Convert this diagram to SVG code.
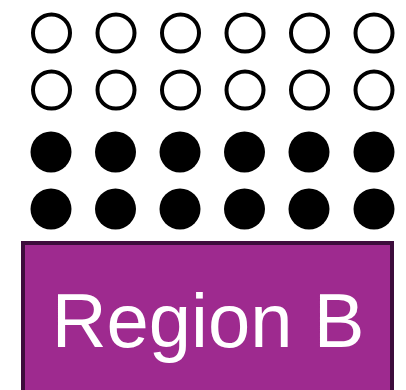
<svg xmlns="http://www.w3.org/2000/svg" width="406" height="390" viewBox="0 0 406 390">
<style>
.o{fill:#fff;stroke:#000;stroke-width:4}
.f{fill:#000}
.box{fill:#9e2a8f;stroke:#3d0c3c;stroke-width:4}
.t{fill:#fff;font-family:"Liberation Sans",Arial,sans-serif;font-size:76px}
</style>
<rect width="406" height="390" fill="#fff"/>
<g id="open">
<circle class="o" cx="51.5" cy="33" r="18.5"/><circle class="o" cx="116" cy="33" r="18.5"/><circle class="o" cx="180.5" cy="33" r="18.5"/><circle class="o" cx="245" cy="33" r="18.5"/><circle class="o" cx="309.5" cy="33" r="18.5"/><circle class="o" cx="374" cy="33" r="18.5"/>
<circle class="o" cx="51.5" cy="90" r="18.5"/><circle class="o" cx="116" cy="90" r="18.5"/><circle class="o" cx="180.5" cy="90" r="18.5"/><circle class="o" cx="245" cy="90" r="18.5"/><circle class="o" cx="309.5" cy="90" r="18.5"/><circle class="o" cx="374" cy="90" r="18.5"/>
</g>
<g id="filled">
<circle class="f" cx="51" cy="152" r="20.5"/><circle class="f" cx="115.5" cy="152" r="20.5"/><circle class="f" cx="180" cy="152" r="20.5"/><circle class="f" cx="244.5" cy="152" r="20.5"/><circle class="f" cx="309" cy="152" r="20.5"/><circle class="f" cx="374" cy="152" r="20.5"/>
<circle class="f" cx="51" cy="209" r="20.5"/><circle class="f" cx="115.5" cy="209" r="20.5"/><circle class="f" cx="180" cy="209" r="20.5"/><circle class="f" cx="244.5" cy="209" r="20.5"/><circle class="f" cx="309" cy="209" r="20.5"/><circle class="f" cx="374" cy="209" r="20.5"/>
</g>
<g id="regionB">
<rect class="box" x="23" y="243" width="369" height="160"/>
<text class="t" x="208" y="347" text-anchor="middle">Region B</text>
</g>
</svg>
